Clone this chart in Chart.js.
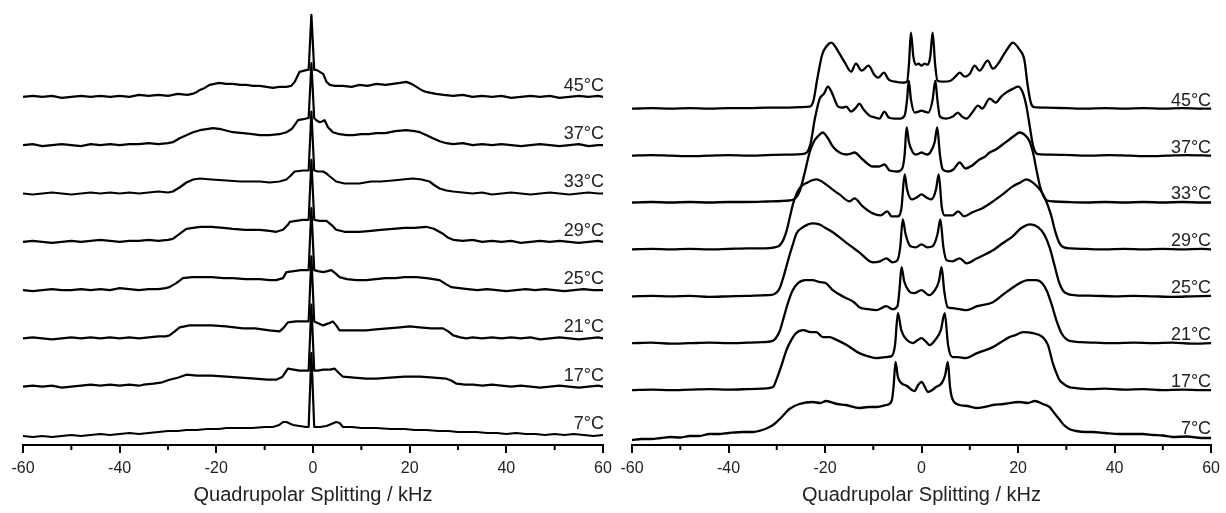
<!DOCTYPE html>
<html>
<head>
<meta charset="utf-8">
<script src="https://cdn.jsdelivr.net/npm/chart.js@4.4.1/dist/chart.umd.min.js"></script>
<style>
  body { margin: 0; background: #fff; }
  #wrap { position: relative; width: 1226px; height: 513px; }
  canvas { position: absolute; left: 0; top: 0; }
</style>
</head>
<body>
<div id="wrap">
  <canvas id="leftChart" width="1226" height="513"></canvas>
  <canvas id="rightChart" width="1226" height="513"></canvas>
</div>
<script>
// temperatures, bottom trace first
const temps = ['7°C', '17°C', '21°C', '25°C', '29°C', '33°C', '37°C', '45°C'];
const axisTitle = 'Quadrupolar Splitting / kHz';

// left panel: [kHz, intensity above the trace's own baseline]
const left7 = [[-60,-1],[-58,-2],[-56,-1],[-54,-2],[-52,-1],[-50,0],[-48,-1],[-46,0],[-44,1],[-42,0],[-40,1],[-38,2],[-36,1],[-34,2],[-32,3],[-30,4],[-28,4],[-26.2,5],[-24,5],[-22,6],[-19.5,6],[-17.9,7],[-15,7],[-12.5,7],[-10,8],[-8.3,8],[-7,10],[-6.2,13],[-5.5,13],[-4.6,11],[-4.1,10],[-2.8,9],[-1.4,8],[-0.9,8],[-0.33,82],[0.25,8],[1.4,8],[2.8,9],[3.8,11],[4.8,13],[5.5,12],[6.2,8],[8,8],[10,7],[13.1,7],[16,6],[19,6],[21,5],[23.4,5],[26,4],[28,4],[30,3],[32,3],[33.8,3],[36,2],[38,2],[40,1],[42,2],[44,1],[46,1],[48,0],[50,1],[52,0],[54,1],[56,0],[58,-1],[60,0]];
const left17 = [[-60,0],[-58,1],[-56,0],[-54,1],[-52,-1],[-50,0],[-48,1],[-46,2],[-44,1],[-42,2],[-40,1],[-38,2],[-36,1],[-35.1,2],[-33,3],[-31.5,4],[-29.7,7],[-28,9],[-26.2,12],[-24,11],[-21,11],[-17.9,10],[-15,9],[-12,8],[-9.5,7],[-7.6,7],[-6.3,10],[-5.2,18],[-4,17],[-2.8,16],[-1.4,16],[-0.9,16],[-0.33,82],[0.25,16],[1,16],[2.1,17],[3.5,17],[4.5,18],[5.3,14],[6.2,10],[8.5,9],[11,8],[13.1,8],[16,9],[19,10],[22.1,10],[25,9],[27.6,8],[28.7,6],[29.7,3],[31.5,2],[33.1,2],[35,1],[37,2],[39,1],[41,0],[43,1],[45,0],[47,-1],[49,0],[51,1],[53,0],[55,-1],[57,0],[59,1],[60,0]];
const left21 = [[-60,0],[-58,1],[-56,0],[-54,-1],[-52,0],[-50,1],[-48,0],[-46,1],[-44,0],[-42,1],[-40,0],[-38,1],[-36,0],[-34,1],[-32,2],[-30.5,2],[-29.7,3],[-28.6,7],[-27.6,11],[-25.5,13],[-23.4,13],[-21,13],[-18,12],[-14.5,10],[-12,10],[-9,8],[-6.9,7],[-6,11],[-5.2,16],[-3.5,17],[-1.4,17],[-0.9,17],[-0.33,82],[0.25,17],[1.2,15],[2.1,13],[3.2,15],[4.1,17],[4.8,13],[5.5,8],[7.5,8],[9.5,8],[11,8],[13,9],[15.5,10],[18,11],[20,12],[22,11],[24.5,10],[26.9,10],[28,7],[29,3],[30.5,1],[31.7,0],[33,1],[35,0],[37,1],[39,0],[41,1],[43,0],[45,1],[47,-1],[49,0],[51,1],[53,0],[55,-1],[57,0],[59,1],[60,0]];
const left25 = [[-60,0],[-58,-1],[-56,0],[-54,1],[-52,0],[-50,0],[-48,1],[-46,0],[-44,1],[-42,0],[-40,2],[-38,1],[-36,0],[-34,1],[-32,1],[-30.5,2],[-29.7,3],[-28.3,7],[-26.9,12],[-25,13],[-23.4,13],[-21,13],[-18.5,12],[-16.6,12],[-14,11],[-11,11],[-9,10],[-7.6,10],[-6.2,12],[-5.5,18],[-4,19],[-2.5,20],[-1.4,20],[-0.9,20],[-0.33,82],[0.25,20],[1,19],[2.1,18],[3,19],[3.8,20],[4.6,17],[5.5,13],[7,11],[9,10],[11,10],[13,11],[15,12],[17,12],[19,13],[21.4,13],[23.5,12],[26.2,10],[27.5,6],[28.6,3],[30.3,2],[32,1],[34,0],[36,1],[38,0],[40,-1],[42,0],[44,1],[46,0],[48,1],[50,0],[52,-1],[54,0],[56,1],[58,0],[60,0]];
const left29 = [[-60,0],[-58,1],[-56,0],[-54,-1],[-52,0],[-50,1],[-48,0],[-46,1],[-44,2],[-42,1],[-40,0],[-38,1],[-36,1],[-34,2],[-32,1],[-30,2],[-29,3],[-27.6,8],[-26.2,13],[-24.8,14],[-23.4,15],[-21,15],[-18.5,14],[-16.6,13],[-14,12],[-11,12],[-9,11],[-7.6,10],[-6.2,12],[-5.2,17],[-4.8,20],[-3.5,21],[-2.1,22],[-0.9,22],[-0.33,82],[0.25,22],[1.4,21],[2.8,21],[3.8,17],[4.8,12],[6.5,10],[8,10],[9.6,10],[12,11],[14,12],[16.5,13],[19,14],[21,14],[23.4,15],[25,13],[26.9,8],[28,4],[29,2],[31,1],[33,2],[35,0],[37,1],[39,0],[41,1],[43,-1],[45,0],[47,1],[49,0],[51,1],[53,0],[55,-1],[57,0],[59,1],[60,0]];
const left33 = [[-60,0],[-58,-1],[-56,0],[-54,1],[-52,0],[-50,-1],[-48,0],[-46,1],[-44,0],[-42,1],[-40,0],[-38,1],[-36,0],[-34,1],[-32,2],[-30,1],[-29,2],[-27.6,6],[-26.2,11],[-24.8,14],[-23.4,15],[-21,14],[-17.9,13],[-15,12],[-11,12],[-9,11],[-6.9,12],[-5.5,14],[-4.8,17],[-3.8,22],[-2,23],[-0.9,23],[-0.33,82],[0.25,23],[1,22],[2.1,22],[2.8,20],[3.5,17],[4.8,12],[6.5,10],[8,10],[9.6,10],[12,12],[14,12],[16.5,13],[18.5,14],[20.7,15],[22.5,14],[24.1,12],[25.2,8],[26.2,5],[27.6,3],[29,2],[31,1],[33,0],[35,1],[37,-1],[39,0],[41,1],[43,0],[45,-1],[47,0],[49,1],[51,0],[53,-1],[55,0],[57,1],[59,0],[60,0]];
const left37 = [[-60,0],[-58,1],[-56,-1],[-54,0],[-52,1],[-50,0],[-48,-1],[-46,1],[-44,0],[-42,1],[-40,0],[-38,1],[-36,1],[-34,2],[-32,1],[-30,2],[-29,3],[-27.6,7],[-26.2,10],[-24.8,13],[-23.4,15],[-22,16],[-20.7,17],[-19,16],[-16.6,13],[-14.5,12],[-12.5,11],[-11,10],[-9,10],[-7,11],[-5.5,13],[-4.5,16],[-4.1,18],[-3.1,25],[-2,26],[-1.2,27],[-0.9,27],[-0.33,82],[0.25,27],[0.7,25],[1.4,23],[2,24],[2.4,25],[3.1,18],[4.1,13],[5.5,11],[7,10],[8.3,10],[10,11],[11.5,11],[13.1,12],[15,12],[17,14],[19.3,15],[21,14],[22.1,13],[23.5,10],[24.8,7],[26.2,4],[27.6,2],[29,1],[31,2],[33,0],[35,1],[37,0],[39,1],[41,0],[43,-1],[45,0],[47,1],[49,0],[51,-1],[53,0],[55,1],[57,-1],[59,0],[60,0]];
const left45 = [[-60,0],[-58,1],[-56,0],[-54,1],[-52,-1],[-50,0],[-48,1],[-46,0],[-44,1],[-42,0],[-40,1],[-38,0],[-36,2],[-34,1],[-32,2],[-30,1],[-28,3],[-26,2],[-25,3],[-24,5],[-23.4,7],[-22.4,9],[-21.4,12],[-20.4,13],[-19.4,14],[-18,13],[-16.6,13],[-15,12],[-13.8,12],[-12.4,11],[-11,11],[-9.6,10],[-8.3,9],[-7,10],[-5.5,10],[-4.5,11],[-3.8,15],[-3.3,20],[-2.8,25],[-2,26],[-1.2,27],[-0.9,27],[-0.33,82],[0.25,27],[0.7,27],[1.4,25],[2.1,23],[2.8,15],[3.5,12],[4.5,11],[6.2,11],[8,10],[9.6,12],[11.3,11],[13.1,13],[15,12],[16.5,13],[18,14],[19.3,15],[20.4,13],[21.4,10],[22.4,7],[23.4,5],[24.4,4],[25.4,3],[27,2],[29,1],[31,2],[33,0],[35,1],[37,0],[39,1],[41,-1],[43,0],[45,1],[47,0],[49,1],[51,-1],[53,0],[55,1],[57,0],[59,1],[60,0]];

// right panel: [kHz, intensity above the trace's own baseline]
const right7 = [[-60,-3],[-58,-2],[-56,-2],[-54,-1],[-52,0],[-50,-0.5],[-48,1],[-46,1],[-44,3],[-42,3],[-40,4],[-37,5],[-35,5],[-33,7],[-31.5,10],[-30.5,13],[-29.4,18],[-28.4,23],[-27.4,28],[-25.3,33],[-22.6,35],[-21,34],[-19.8,36],[-17.5,33],[-15.7,32],[-12.9,29],[-11,30],[-9.4,30],[-7.3,32],[-6.2,36],[-5.8,50],[-5.4,75],[-4.9,60],[-4.2,54],[-3,51],[-2,47],[-1.45,46],[-0.7,52],[0,55],[0.7,50],[1.3,45],[2.2,47],[3,50],[4.2,54],[4.9,62],[5.45,75],[5.9,50],[6.4,38],[7.9,32],[9.5,31],[11.3,29],[13,30],[14.8,32],[17,33],[20.3,35],[22,34],[23.5,36],[25.1,33],[26.5,30],[27.5,24],[28.5,18],[29.5,12],[30.6,8],[32,6],[34,5],[35.5,5],[38,4],[41,3],[43,3],[45.9,3],[48,2],[50,1.5],[52,0],[55,0.5],[58,-1],[60,-1]];
const right17 = [[-60,0],[-56,0.5],[-52,0],[-48,0.5],[-44,1],[-40,0.5],[-36,1],[-33,1.5],[-30.8,3],[-30.1,10],[-29,25],[-28,40],[-27,50],[-26,57],[-24.5,60],[-23,58],[-21.8,58],[-20.5,53],[-19,53],[-18.4,52],[-15.5,45],[-12.9,37],[-10.5,33],[-9.4,32],[-7.5,33],[-6.2,34],[-5.5,45],[-4.9,77],[-4.2,60],[-3,50],[-1.8,47],[-0.8,50],[0,52],[0.8,49],[1.7,45],[2.8,50],[4,60],[4.8,77],[5.5,45],[6.4,33],[7.5,33],[9.1,32],[11.5,37],[14.8,43],[16.5,48],[18.2,53],[19.5,55],[21,58],[23.1,57],[25.1,53],[26.2,45],[27.2,27],[28.2,14],[28.6,10],[29.5,6],[30.6,3],[32,2],[35,1],[38,1.5],[42,0.5],[46,1],[50,0],[54,0.5],[58,0],[60,0]];
const right21 = [[-60,0],[-56,0.5],[-52,-0.5],[-48,0],[-44,0.5],[-40,0],[-36,0.5],[-33,1],[-31,2],[-30.2,5],[-29.4,12],[-28.6,25],[-27.7,40],[-26.8,52],[-25.6,60],[-24,63],[-22.6,63],[-21,61],[-19.8,60],[-18.4,53],[-16,46],[-14,41],[-12.9,36],[-11,34],[-9.4,33],[-7.3,37],[-6,34],[-5,37],[-4.6,52],[-4.15,76],[-3.6,62],[-2.6,52],[-1.6,50],[0,53],[1.6,48],[2.6,52],[3.6,62],[4.15,76],[4.7,52],[5.4,36],[6.4,35],[7.9,34],[9.3,33],[11.5,37],[14.8,41],[17,49],[19,56],[20.3,60],[22,63],[23.8,63],[25,60],[26,52],[27,38],[28,22],[29,10],[30,4],[31,2],[33,1],[36,0.5],[40,0],[44,0.5],[48,0],[52,0.5],[56,-0.5],[60,0]];
const right25 = [[-60,0],[-56,0.5],[-52,0],[-48,0.5],[-44,-0.5],[-40,0],[-36,0.5],[-33,1],[-31,1.5],[-30,4],[-29.4,8],[-28.7,18],[-28,30],[-27.3,42],[-26.6,53],[-25.9,63],[-24.6,69],[-22.6,73],[-21.2,72],[-19.8,68],[-18.4,64],[-15.7,54],[-12.9,44],[-10.1,34],[-8.6,35],[-7.3,38],[-6,34],[-5,36],[-4.4,50],[-3.9,77],[-3.3,62],[-2.3,50],[-1.2,49],[0,52],[1.2,49],[2.3,50],[3.3,62],[3.9,77],[4.5,50],[5.2,36],[6.4,35],[7.9,38],[9.3,33],[11.5,38],[14.8,46],[16.8,53],[18.9,60],[20.6,68],[22.5,72],[24.2,69],[25.4,62],[26.6,48],[27.6,30],[28.5,14],[29.4,5],[30.5,2],[32,1],[36,0.5],[40,0],[44,0.5],[48,0],[52,-0.5],[56,0],[60,0.5]];
const right29 = [[-60,0],[-56,0.5],[-52,0],[-48,0.5],[-44,0],[-40,0.5],[-36,1],[-33,1],[-30.5,2],[-29.4,4],[-28.6,10],[-28,18],[-27.3,32],[-26.6,46],[-25.3,61],[-23.6,67],[-21.8,70],[-19.8,65],[-18.2,59],[-17,55],[-14.9,48],[-13.9,51],[-12.2,43],[-10.1,36],[-8.5,34],[-7.1,38],[-6.2,33],[-5,33],[-4.2,40],[-3.5,75],[-3,60],[-2,50],[-1,52],[0,55],[1,52],[2,50],[3,60],[3.55,75],[4.2,42],[4.8,34],[6.4,34],[7.6,38],[8.8,33],[10.5,37],[12.5,41],[14.8,48],[16.8,55],[18.9,63],[20.5,67],[21.7,70],[23,67],[24.5,60],[25.5,52],[26.8,35],[27.7,18],[28.6,6],[29.5,2],[31,1],[34,0.5],[38,0],[42,0.5],[46,0],[50,0.5],[54,0],[58,0.5],[60,0]];
const right33 = [[-60,0],[-56,0.5],[-52,0],[-48,0.5],[-44,0],[-40,0.5],[-36,0.5],[-32,1],[-29,1.5],[-27.5,2],[-26.2,4],[-25.2,12],[-24.2,30],[-23.2,50],[-22.3,61],[-21.3,67],[-20.5,70],[-19.5,65],[-18.4,56],[-17,50],[-15.6,48],[-14.6,49],[-13.9,50],[-12.2,43],[-10.1,36],[-8.8,36],[-7.7,38],[-6.6,32],[-5,31],[-4,34],[-3.5,48],[-3.1,75],[-2.6,60],[-1.8,50],[-1.2,48],[-0.5,49],[0,50],[0.5,49],[1.2,48],[1.8,50],[2.7,60],[3.25,75],[3.8,48],[4.4,33],[5.5,31],[6.6,33],[7.9,40],[9.1,34],[10.5,37],[12,43],[13.2,46],[14.1,50],[15.4,53],[16.8,58],[18.2,63],[19.3,67],[20.3,70],[21.3,68],[22.3,62],[23.1,50],[23.8,33],[24.5,17],[25.3,6],[26,2],[27.5,1],[30,0.5],[34,0],[38,0.5],[42,0],[46,0.5],[50,0],[54,0.5],[58,0],[60,0]];
const right37 = [[-60,0],[-56,0.5],[-52,0],[-48,-0.5],[-44,0],[-40,0.5],[-36,0],[-32,0.5],[-28,1],[-25,1.5],[-23.8,3],[-23,12],[-22.1,37],[-21.1,57],[-20.2,62],[-19.4,69],[-18.5,62],[-17.3,49],[-16.4,48],[-15.6,49],[-14.6,44],[-13.6,48],[-12.9,52],[-12,46],[-10.8,40],[-9.6,38],[-8.7,37],[-7.7,44],[-6.8,38],[-5.6,37],[-4.4,37],[-3.5,40],[-3,56],[-2.65,75],[-2.2,56],[-1.4,43],[-0.6,44],[0,45],[0.6,44],[1.4,43],[2.3,56],[2.85,75],[3.3,55],[3.8,39],[5.1,37],[6.5,39],[7.5,43],[8.4,39],[9.3,37],[10.5,43],[11.7,50],[12.6,47],[14.1,57],[15.4,53],[16.5,59],[17.5,63],[19,67],[20,69],[20.9,64],[21.7,50],[22.4,30],[23.1,10],[24.1,1.5],[27,1],[31,0.5],[35,0],[39,0.5],[43,0],[47,-0.5],[51,0],[55,0.5],[60,0]];
const right45 = [[-60,0],[-56,0.5],[-52,0],[-48,0.5],[-44,0],[-40,0.5],[-36,0.5],[-32,1],[-28,1],[-25,1.5],[-23.2,2],[-22.4,8],[-21.6,30],[-20.6,54],[-19.6,63],[-18.7,66],[-18,63],[-17,55],[-16,47],[-14.6,37],[-13.6,45],[-12.4,38],[-11,43],[-9.8,34],[-9,31],[-7.8,36],[-6.8,29],[-5.5,27],[-4,26],[-3,27],[-2.6,45],[-2.2,76],[-1.7,52],[-1.2,44],[-0.6,45],[0,43],[0.6,45],[1.3,44],[1.8,52],[2.3,76],[2.8,45],[3.3,28],[4.5,27],[6,28],[7,32],[7.9,36],[9,32],[10,35],[11,43],[12,38],[13.7,48],[14.8,40],[16,46],[16.9,53],[18.1,62],[18.9,66],[20.3,59],[21.3,49],[22,23],[22.7,5],[23.4,1.5],[26,1],[30,0.5],[34,0],[38,0.5],[42,0],[46,0.5],[50,0],[54,0.5],[58,0],[60,0]];

const leftSeries = [left7, left17, left21, left25, left29, left33, left37, left45];
const rightSeries = [right7, right17, right21, right25, right29, right33, right37, right45];

const fontFamily = '"Liberation Sans", Arial, sans-serif';

// minor ticks and temperature labels
const decor = {
  id: 'decor',
  afterDraw(chart, args, opts) {
    const { ctx, chartArea, scales: { x, y } } = chart;
    ctx.save();
    ctx.strokeStyle = '#000';
    ctx.lineWidth = 2;
    for (let v = -50; v <= 50; v += 20) {
      const px = x.getPixelForValue(v);
      ctx.beginPath();
      ctx.moveTo(px, x.top);
      ctx.lineTo(px, x.top + 5);
      ctx.stroke();
    }
    ctx.fillStyle = '#222';
    ctx.font = '18px ' + fontFamily;
    ctx.textAlign = 'right';
    ctx.textBaseline = 'middle';
    temps.forEach((t, i) => {
      ctx.fillText(t, chartArea.right + opts.dx, y.getPixelForValue(opts.offsets[i] + opts.lift));
    });
    ctx.restore();
  }
};

function makeChart(id, series, base, step, padLeft, padRight, lift, dx, smooth) {
  const offsets = series.map((s, i) => base + i * step);
  const datasets = series.map((s, i) => ({
    label: temps[i],
    data: s.map(p => ({ x: p[0], y: p[1] + offsets[i] })),
    borderColor: '#000',
    borderWidth: smooth ? 2.3 : 2.2,
    borderJoinStyle: 'round',
    pointRadius: 0,
    fill: false,
    tension: smooth ? 0.4 : 0,
    cubicInterpolationMode: smooth ? 'monotone' : 'default',
    clip: false
  }));

  new Chart(document.getElementById(id), {
    type: 'line',
    data: { datasets },
    options: {
      responsive: false,
      animation: false,
      devicePixelRatio: 1,
      layout: { padding: { left: padLeft, right: padRight, top: 10, bottom: 0 } },
      plugins: {
        legend: { display: false },
        tooltip: { enabled: false },
        decor: { offsets, lift, dx }
      },
      scales: {
        x: {
          type: 'linear',
          min: -60,
          max: 60,
          afterFit: s => { s.height = 68; },
          border: { display: true, color: '#000', width: 2 },
          grid: { drawOnChartArea: false, drawTicks: true, tickLength: 8, color: '#000', lineWidth: 2 },
          ticks: {
            stepSize: 20,
            autoSkip: false,
            maxRotation: 0,
            padding: 6,
            color: '#222',
            font: { size: 16, family: fontFamily }
          },
          title: {
            display: true,
            text: axisTitle,
            color: '#222',
            font: { size: 20, family: fontFamily },
            padding: { top: 0, bottom: 6 }
          }
        },
        y: { display: false, min: 0, max: 435 }
      }
    },
    plugins: [decor]
  });
}

makeChart('leftChart', leftSeries, 10, 48.3, 23, 623, 11, 1, false);
makeChart('rightChart', rightSeries, 8, 46.9, 632, 12, 8, 0, true);
</script>
</body>
</html>
